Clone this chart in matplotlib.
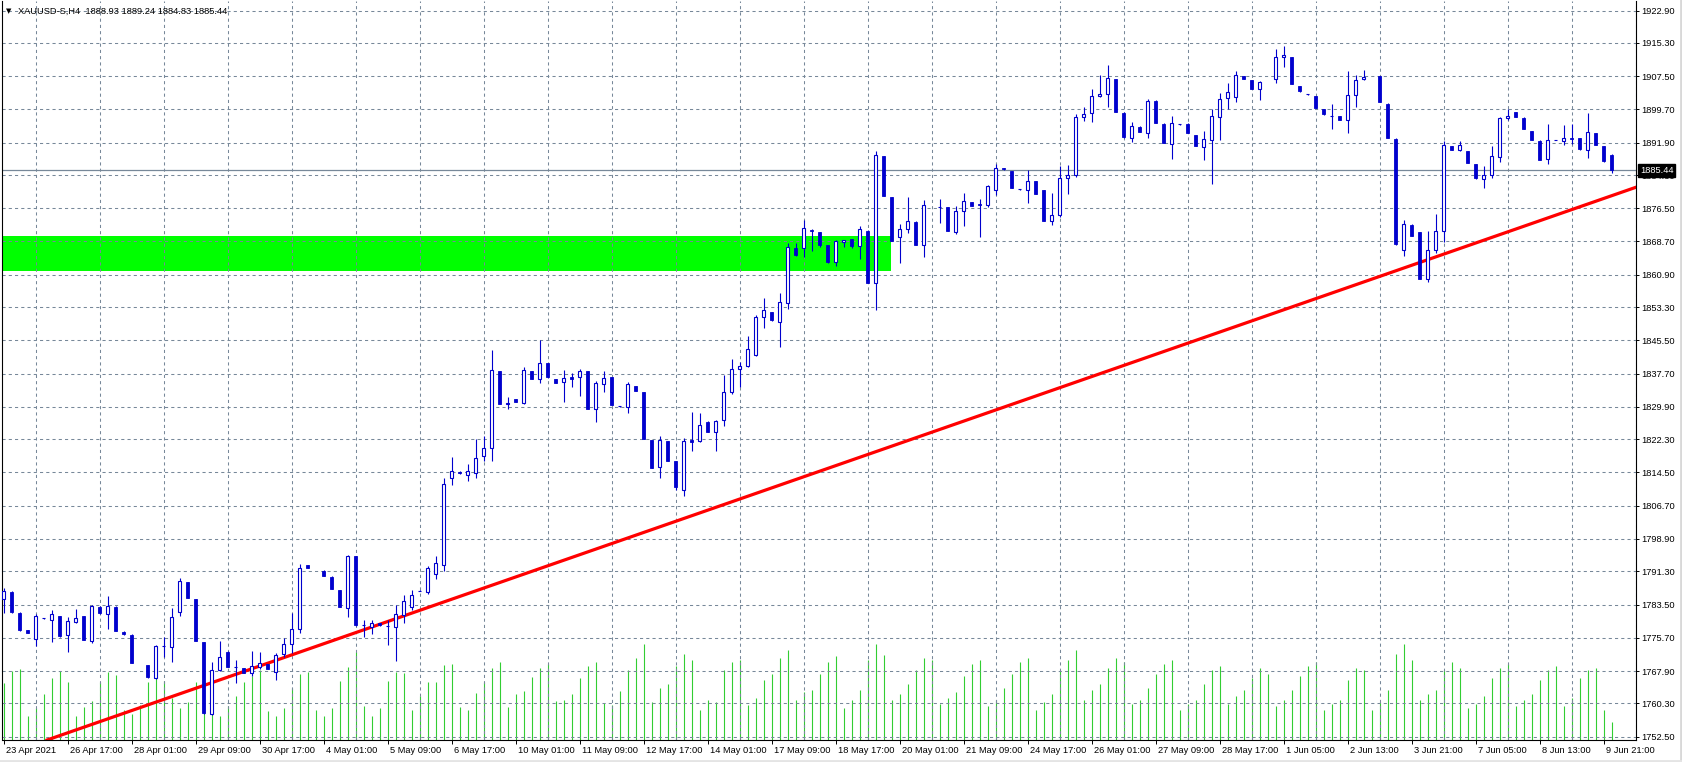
import matplotlib
matplotlib.use('Agg')
import matplotlib.pyplot as plt
import matplotlib.transforms as mtransforms
from matplotlib.patches import Rectangle
import numpy as np

nan = float('nan')

# H4 candles, bar 0 = 23 Apr 2021
opens = [1784.7, 1786.4, 1781.5, 1777.5, 1775.4, 1780.3, 1780.0, 1780.8, 1776.3, 1779.5,
         1780.8, 1775.0, 1783.0, 1781.4, 1783.0, 1777.1, 1776.4, nan, 1769.3, 1766.2,
         1773.8, 1773.6, 1781.7, 1788.8, 1784.7, 1774.7, 1757.8, 1768.1, 1772.4, 1768.9,
         1768.6, 1767.4, 1768.9, 1769.5, 1767.6, 1771.8, 1774.2, 1777.7, 1792.8, nan,
         1791.5, 1790.0, 1786.9, 1782.8, 1794.9, 1778.6, 1778.3, 1779.1, 1778.5, 1778.3,
         1781.1, 1783.0, 1786.8, 1786.5, 1790.7, 1792.8, 1813.1, 1814.6, 1813.9, 1814.3,
         1818.3, 1820.2, 1838.3, 1830.5, 1831.7, 1830.9, 1838.3, 1836.4, 1840.2, 1836.4,
         1835.7, 1836.8, 1836.8, 1838.3, 1829.3, 1835.2, 1836.9, 1830.0, 1829.8, 1834.8,
         1833.4, 1822.1, 1815.7, 1821.9, 1817.2, 1810.5, 1822.1, 1822.0, 1826.4, 1823.9,
         1826.7, 1833.5, 1838.7, 1839.6, 1842.1, 1851.1, 1852.1, 1849.9, 1854.2, 1867.1,
         1867.1, 1871.5, 1870.9, 1867.8, 1863.8, 1868.5, 1869.2, 1867.6, 1871.2, 1858.9,
         1888.7, 1879.1, 1869.7, 1871.6, 1873.3, 1867.8, nan, 1876.8, 1876.8, 1871.0,
         1875.9, 1877.9, 1877.5, 1877.3, 1880.9, 1885.9, 1885.2, 1881.0, 1880.7, 1882.9,
         1880.8, 1873.4, 1874.8, 1883.5, 1884.2, 1897.9, 1898.8, 1902.8, 1903.2, 1906.8,
         1898.9, 1893.1, 1895.6, 1894.2, 1901.7, 1896.3, 1891.6, 1896.2, 1896.3, 1893.7,
         1890.9, 1892.4, 1898.0, 1902.3, 1902.5, 1907.5, 1906.6, 1904.4, nan, 1906.8,
         1911.9, 1912.0, 1905.2, 1903.2, 1902.8, 1899.8, 1898.2, 1898.1, 1897.1, 1903.0,
         1906.8, nan, 1907.5, 1901.0, 1892.8, 1866.6, 1872.6, 1870.9, 1859.8, 1866.6,
         1871.1, 1891.1, 1890.1, 1889.9, 1886.9, 1883.4, 1884.2, 1888.5, 1897.6, 1899.1,
         1897.7, 1894.6, 1892.3, 1888.0, 1892.5, 1892.2, 1893.1, 1893.0, 1890.1, 1894.1,
         1891.0, 1888.93]
highs = [1787.3, 1786.6, 1781.7, 1777.6, 1781.3, 1780.4, 1782.2, 1780.9, 1780.7, 1782.5,
         1780.9, 1783.4, 1783.1, 1785.5, 1783.1, 1777.2, 1776.5, nan, 1769.4, 1774.0,
         1775.8, 1782.6, 1789.7, 1788.9, 1784.8, 1774.8, 1770.0, 1775.0, 1772.5, 1770.4,
         1768.7, 1772.7, 1772.4, 1769.6, 1772.1, 1775.7, 1781.5, 1793.0, 1792.9, nan,
         1791.6, 1790.1, 1787.0, 1795.1, 1795.0, 1779.9, 1779.9, 1779.2, 1779.9, 1783.4,
         1785.8, 1787.0, 1787.0, 1792.5, 1795.0, 1813.3, 1818.2, 1814.8, 1816.6, 1822.4,
         1823.1, 1843.2, 1838.4, 1832.1, 1831.8, 1839.2, 1838.4, 1845.5, 1840.3, 1836.5,
         1838.5, 1837.9, 1838.7, 1838.4, 1836.0, 1838.3, 1837.0, 1830.1, 1835.7, 1834.9,
         1833.5, 1822.2, 1823.1, 1822.0, 1817.3, 1822.5, 1828.7, 1828.5, 1826.5, 1826.8,
         1837.4, 1841.1, 1840.5, 1846.6, 1851.5, 1855.4, 1852.2, 1856.6, 1868.4, 1868.3,
         1873.7, 1871.6, 1871.0, 1867.9, 1869.0, 1869.1, 1869.3, 1872.3, 1871.3, 1889.9,
         1888.8, 1879.2, 1872.7, 1879.1, 1873.4, 1878.4, nan, 1878.7, 1876.9, 1877.0,
         1880.0, 1878.0, 1878.7, 1881.9, 1886.8, 1886.0, 1885.3, 1881.1, 1885.5, 1883.0,
         1880.9, 1880.0, 1886.5, 1886.6, 1898.6, 1900.3, 1904.4, 1907.8, 1910.1, 1906.9,
         1899.0, 1896.8, 1895.7, 1902.1, 1901.8, 1896.4, 1898.1, 1896.3, 1896.4, 1893.8,
         1894.6, 1899.9, 1903.5, 1905.8, 1908.7, 1907.6, 1906.7, 1906.4, nan, 1913.9,
         1914.6, 1912.1, 1905.3, 1903.3, 1902.9, 1899.9, 1901.0, 1898.2, 1908.8, 1907.8,
         1908.9, nan, 1907.6, 1901.1, 1892.9, 1873.7, 1872.7, 1871.0, 1871.2, 1875.2,
         1892.2, 1891.2, 1892.3, 1890.0, 1887.0, 1886.4, 1891.1, 1898.0, 1899.9, 1899.2,
         1897.8, 1894.7, 1892.4, 1896.3, 1892.6, 1896.0, 1896.3, 1893.1, 1898.8, 1894.2,
         1891.1, 1889.24]
lows = [1781.6, 1781.6, 1777.4, 1776.8, 1773.8, 1780.2, 1774.8, 1776.0, 1772.3, 1779.3,
        1775.1, 1774.6, 1781.4, 1777.8, 1777.2, 1776.4, 1769.8, nan, 1766.3, 1766.0,
        1771.1, 1770.1, 1780.9, 1785.0, 1774.9, 1757.9, 1757.6, 1767.9, 1768.8, 1765.2,
        1767.4, 1766.8, 1768.5, 1768.4, 1765.9, 1771.3, 1772.2, 1776.9, 1792.1, nan,
        1790.1, 1787.1, 1782.9, 1780.7, 1778.5, 1776.0, 1776.6, 1778.5, 1774.0, 1770.3,
        1779.3, 1782.2, 1786.6, 1786.0, 1789.5, 1791.5, 1811.6, 1814.1, 1812.5, 1813.3,
        1817.3, 1817.3, 1830.5, 1829.5, 1831.0, 1830.5, 1836.4, 1835.6, 1836.7, 1835.5,
        1831.1, 1834.5, 1832.5, 1829.3, 1826.4, 1833.4, 1830.3, 1829.9, 1828.5, 1833.6,
        1822.3, 1815.5, 1813.1, 1817.2, 1810.5, 1809.0, 1819.6, 1821.7, 1823.9, 1819.6,
        1825.3, 1832.8, 1834.5, 1839.2, 1841.9, 1848.5, 1850.1, 1844.0, 1852.9, 1865.3,
        1865.1, 1866.5, 1867.3, 1863.7, 1863.0, 1867.5, 1867.2, 1864.5, 1858.9, 1852.6,
        1879.3, 1868.7, 1863.7, 1870.8, 1867.8, 1865.1, nan, 1873.1, 1871.1, 1870.4,
        1872.3, 1877.0, 1869.8, 1876.9, 1879.6, 1885.5, 1881.2, 1880.9, 1877.8, 1879.8,
        1873.5, 1872.6, 1874.4, 1879.8, 1883.9, 1897.0, 1896.8, 1902.5, 1900.3, 1899.1,
        1893.1, 1892.0, 1894.3, 1893.1, 1896.5, 1891.8, 1888.1, 1896.1, 1894.1, 1891.1,
        1887.8, 1882.2, 1892.5, 1899.7, 1901.5, 1906.8, 1904.4, 1901.9, nan, 1906.0,
        1909.7, 1905.6, 1903.8, 1903.1, 1900.0, 1898.4, 1895.0, 1897.1, 1894.2, 1900.3,
        1906.6, nan, 1901.4, 1893.0, 1867.9, 1865.3, 1870.0, 1859.9, 1859.3, 1866.1,
        1868.6, 1890.1, 1889.9, 1887.1, 1883.4, 1881.3, 1883.6, 1887.4, 1897.3, 1897.9,
        1895.1, 1892.4, 1887.8, 1887.0, 1892.4, 1891.4, 1891.5, 1890.2, 1888.4, 1891.3,
        1887.4, 1884.83]
closes = [1786.7, 1781.8, 1777.6, 1776.9, 1780.8, 1780.3, 1781.2, 1776.1, 1779.6, 1780.3,
          1775.2, 1783.2, 1781.5, 1783.2, 1777.3, 1776.5, 1769.9, nan, 1766.4, 1773.8,
          1773.8, 1780.5, 1789.0, 1785.1, 1775.0, 1758.0, 1768.1, 1771.1, 1768.9, 1768.9,
          1767.5, 1769.1, 1769.8, 1768.5, 1771.6, 1774.2, 1777.7, 1792.0, 1792.2, nan,
          1790.2, 1787.2, 1783.0, 1794.9, 1778.6, 1778.6, 1779.3, 1778.6, 1778.5, 1781.2,
          1784.4, 1785.7, 1786.8, 1792.2, 1793.3, 1811.9, 1814.9, 1814.3, 1814.8, 1818.0,
          1820.2, 1838.5, 1830.6, 1830.9, 1831.1, 1838.5, 1836.5, 1840.3, 1836.8, 1835.6,
          1836.6, 1836.5, 1838.4, 1829.4, 1835.4, 1836.6, 1830.4, 1830.0, 1835.3, 1833.7,
          1822.4, 1815.6, 1822.1, 1817.3, 1811.0, 1821.9, 1821.7, 1825.6, 1824.0, 1826.5,
          1833.5, 1838.7, 1839.6, 1843.4, 1851.1, 1852.6, 1850.2, 1854.4, 1867.3, 1865.5,
          1871.8, 1871.2, 1867.9, 1863.8, 1868.9, 1869.0, 1867.6, 1871.6, 1859.0, 1888.9,
          1879.4, 1868.8, 1871.6, 1873.4, 1867.9, 1877.2, nan, 1876.8, 1871.2, 1875.8,
          1878.1, 1877.1, 1877.2, 1881.7, 1885.9, 1885.6, 1881.3, 1881.0, 1882.8, 1879.9,
          1873.6, 1874.8, 1883.6, 1884.2, 1897.8, 1898.5, 1902.8, 1903.3, 1907.0, 1899.2,
          1893.2, 1895.9, 1894.4, 1901.7, 1896.6, 1891.9, 1896.4, 1896.2, 1894.2, 1891.2,
          1892.8, 1898.1, 1902.1, 1903.7, 1907.7, 1906.9, 1904.5, 1906.1, nan, 1911.9,
          1912.4, 1905.7, 1903.9, 1903.2, 1900.1, 1898.5, 1898.2, 1897.2, 1903.0, 1906.7,
          1907.2, nan, 1901.5, 1893.1, 1868.0, 1872.7, 1870.1, 1860.0, 1866.7, 1871.2,
          1891.3, 1890.2, 1891.3, 1887.2, 1883.5, 1884.2, 1888.7, 1897.6, 1898.1, 1898.0,
          1895.2, 1892.5, 1887.9, 1892.4, 1892.5, 1892.9, 1892.8, 1890.3, 1894.3, 1891.4,
          1887.5, 1885.44]
volumes = [57, 69, 71, 24, 32, 46, 62, 69, 58, 24, 33, 39, 58, 68, 65, 30, 26, 35, 58, 63,
           59, 42, 32, 38, 58, 71, 55, 24, 34, 44, 58, 64, 70, 29, 24, 32, 52, 66, 68, 30,
           24, 32, 59, 73, 88, 34, 24, 32, 59, 68, 67, 30, 44, 58, 58, 75, 76, 33, 30, 47,
           58, 72, 78, 33, 46, 49, 63, 72, 76, 39, 40, 46, 62, 74, 78, 37, 35, 49, 70, 82,
           96, 38, 52, 56, 74, 86, 80, 30, 40, 38, 70, 78, 80, 35, 42, 60, 66, 82, 90, 40,
           48, 50, 66, 78, 84, 32, 40, 50, 80, 96, 85, 40, 46, 56, 70, 82, 80, 36, 42, 48,
           64, 76, 80, 34, 40, 52, 66, 78, 82, 30, 38, 46, 70, 80, 90, 40, 50, 56, 72, 82,
           78, 36, 40, 52, 66, 76, 80, 30, 36, 40, 56, 70, 74, 36, 44, 50, 62, 72, 66, 34,
           40, 50, 64, 74, 78, 30, 36, 40, 60, 72, 70, 30, 38, 50, 86, 96, 80, 40, 46, 50,
           70, 78, 72, 32, 36, 44, 62, 72, 76, 34, 40, 46, 60, 70, 74, 34, 42, 62, 70, 72,
           30, 18]

date_labels = ['23 Apr 2021', '26 Apr 17:00', '28 Apr 01:00', '29 Apr 09:00', '30 Apr 17:00',
               '4 May 01:00', '5 May 09:00', '6 May 17:00', '10 May 01:00', '11 May 09:00',
               '12 May 17:00', '14 May 01:00', '17 May 09:00', '18 May 17:00', '20 May 01:00',
               '21 May 09:00', '24 May 17:00', '26 May 01:00', '27 May 09:00', '28 May 17:00',
               '1 Jun 05:00', '2 Jun 13:00', '3 Jun 21:00', '7 Jun 05:00', '8 Jun 13:00',
               '9 Jun 21:00']
date_bars = list(range(0, 201, 8))
price_ticks = [1922.90, 1915.30, 1907.50, 1899.70, 1891.90, 1884.30, 1876.50, 1868.70,
               1860.90, 1853.30, 1845.50, 1837.70, 1829.90, 1822.30, 1814.50, 1806.70,
               1798.90, 1791.30, 1783.50, 1775.70, 1767.90, 1760.30, 1752.50]

zone_top = 1869.99
zone_bottom = 1861.85
zone_end_bar = 110.9
trend_bars = [12.9, 202.1]
trend_prices = [1756.6, 1880.15]
last_price = 1885.44
title = 'XAUUSD-S,H4  1888.93 1889.24 1884.83 1885.44'

blue = '#0000CD'
grid_col = '#778899'
plt.rcParams['font.family'] = ['Liberation Sans', 'DejaVu Sans']
fs = 6.7

W, H = 1683, 762
fig = plt.figure(figsize=(W / 100, H / 100), dpi=100)
rect = [2.5 / W, (H - 740) / H, (1636 - 2.5) / W, 739 / H]
axv = fig.add_axes(rect, zorder=0)
ax = fig.add_axes(rect, zorder=1)
ax.patch.set_alpha(0)

x = np.arange(len(opens))
o = np.array(opens)
c = np.array(closes)
hi = np.array(highs)
lo = np.array(lows)
ok = ~np.isnan(o)
bull = ok & (c >= o)
bear = ok & (c < o)

xlim = (-0.125, 204.06)
ylim = (1751.73, 1925.13)

# volumes
axv.vlines(x, 0, volumes, color='#32CD32', lw=0.8)
axv.set_xlim(xlim)
axv.set_ylim(0, 739)
axv.axis('off')

# zone, price line, trend line
ax.add_patch(Rectangle((xlim[0] - 1, zone_bottom), zone_end_bar - xlim[0] + 1,
                       zone_top - zone_bottom, facecolor='#00FF00', edgecolor='none', zorder=0.3))
ax.axhline(last_price, color=grid_col, lw=0.9, zorder=1.6)
ax.axline((trend_bars[0], trend_prices[0]), (trend_bars[1], trend_prices[1]),
          color='#FF0000', lw=2.3, zorder=2)

# candles
ax.vlines(x[ok], lo[ok], hi[ok], color=blue, lw=0.8, zorder=3)
ax.bar(x[bull], c[bull] - o[bull], bottom=o[bull], width=0.38,
       facecolor='white', edgecolor=blue, lw=0.8, zorder=4)
ax.bar(x[bear], o[bear] - c[bear], bottom=c[bear], width=0.3,
       facecolor=blue, edgecolor=blue, lw=0.6, zorder=4)

ax.set_xlim(xlim)
ax.set_ylim(ylim)

ax.yaxis.tick_right()
ax.set_yticks(price_ticks)
ax.set_yticklabels(['%.2f' % p for p in price_ticks], fontsize=fs)
ax.set_xticks(date_bars)
ax.set_xticklabels(date_labels, fontsize=fs)
ax.set_xticks(range(4, 205, 4), minor=True)
ax.tick_params(axis='y', which='major', length=3.3 * 0.72, width=0.7, pad=1.2, colors='black')
ax.tick_params(axis='x', which='major', length=4 * 0.72, width=0.7, pad=1.5, colors='black')
ax.tick_params(axis='x', which='minor', length=0)
off = mtransforms.ScaledTranslation(2 / 100, 0, fig.dpi_scale_trans)
for lab in ax.get_xticklabels():
    lab.set_horizontalalignment('left')
    lab.set_transform(lab.get_transform() + off)

ax.set_axisbelow(True)
ax.grid(True, axis='y', color=grid_col, lw=0.75, linestyle=(0, (3, 3)))
ax.grid(True, axis='x', which='minor', color=grid_col, lw=0.75, linestyle=(0, (3, 3)))
ax.grid(False, axis='x', which='major')

for s in ['left', 'right', 'bottom']:
    ax.spines[s].set_color('black')
    ax.spines[s].set_linewidth(0.8)
ax.spines['top'].set_visible(False)

# last price tag
tr = mtransforms.blended_transform_factory(ax.transAxes, ax.transData)
ax.text(1.0, last_price, '1885.44', transform=tr + mtransforms.ScaledTranslation(4 / 100, 0, fig.dpi_scale_trans),
        ha='left', va='center', color='white', fontsize=fs, clip_on=False, zorder=10,
        bbox=dict(boxstyle='square,pad=0.2', facecolor='black', edgecolor='black'))

fig.text(6 / W, 1 - 11 / H, '\u25bc', fontsize=5, va='center', ha='left', color='black',
         family=['DejaVu Sans'])
fig.text(18 / W, 1 - 11 / H, title, fontsize=fs, va='center', ha='left', color='black')

fig.add_artist(plt.Line2D([1681 / W, 1681 / W], [0, 1], color='#d8d8d8', lw=2))
fig.add_artist(plt.Line2D([0, 1], [1.5 / H, 1.5 / H], color='#e4e4e4', lw=2))

fig.savefig('out.png', dpi=100, facecolor='white')
